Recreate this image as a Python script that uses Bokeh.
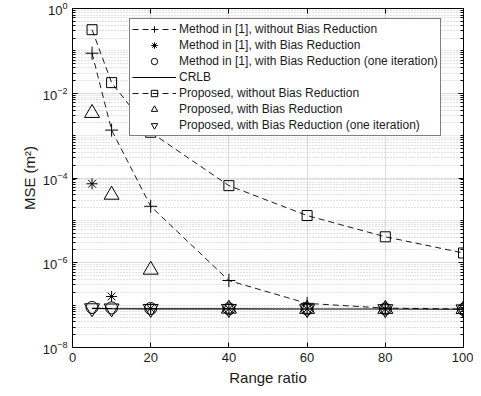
from bokeh.plotting import figure
from bokeh.models import (FixedTicker, LogAxis, LinearAxis, Legend, LegendItem)
from bokeh.embed import file_html
from bokeh.resources import INLINE

# ---- data ----
range_ratio = [5, 10, 20, 40, 60, 80, 100]
method_no_br = [8.8e-2, 1.35e-3, 2.15e-5, 3.8e-7, 1.1e-7, 8.5e-8, 8.1e-8]
method_br = [7.3e-5, 1.6e-7, 8.3e-8, 8.2e-8, 8.1e-8, 8.1e-8, 8.0e-8]
method_br_one = [8.8e-8, 8.6e-8, 8.3e-8, 8.2e-8, 8.1e-8, 8.1e-8, 8.0e-8]
crlb = [8.4e-8, 8.3e-8, 8.2e-8, 8.2e-8, 8.1e-8, 8.1e-8, 8.0e-8]
proposed_no_br = [0.316, 1.78e-2, 1.2e-3, 6.6e-5, 1.3e-5, 4.1e-6, 1.7e-6]
proposed_br = [3.4e-3, 4.0e-5, 6.8e-7, 8.2e-8, 8.1e-8, 8.1e-8, 8.0e-8]
proposed_br_one = [8.5e-8, 8.4e-8, 8.2e-8, 8.2e-8, 8.1e-8, 8.1e-8, 8.0e-8]

labels = [
    "Method in [1], without Bias Reduction",
    "Method in [1], with Bias Reduction",
    "Method in [1], with Bias Reduction (one iteration)",
    "CRLB",
    "Proposed, without Bias Reduction",
    "Proposed, with Bias Reduction",
    "Proposed, with Bias Reduction (one iteration)",
]
x_ticks = [0, 20, 40, 60, 80, 100]
y_major = [1e-8, 1e-6, 1e-4, 1e-2, 1.0]
y_minor = [m * 10.0 ** d for d in range(-8, 0) for m in range(1, 10)
           if not (m == 1 and d % 2 == 0)]

FONT = "Liberation Sans"
TXT = "#1a1a1a"

W, H = 473, 388
B_LEFT, B_RIGHT, B_TOP, B_BOTTOM = 72, 10, 8, 39
FRAME_H = H - B_TOP - B_BOTTOM

p = figure(width=W, height=H, x_range=(0, 100), y_range=(1e-8, 1),
           y_axis_type="log", output_backend="svg", toolbar_location=None,
           min_border_left=B_LEFT, min_border_right=B_RIGHT,
           min_border_top=B_TOP, min_border_bottom=B_BOTTOM)
p.outline_line_color = "black"
p.outline_line_width = 1

xt = FixedTicker(ticks=x_ticks, minor_ticks=[])
yt = FixedTicker(ticks=y_major, minor_ticks=y_minor)
p.xaxis.ticker = xt
p.yaxis.ticker = yt
p.xgrid.ticker = xt
p.ygrid.ticker = yt

for ax in (p.xaxis[0], p.yaxis[0]):
    ax.major_tick_in = 5
    ax.major_tick_out = 0
    ax.minor_tick_in = 3
    ax.minor_tick_out = 0
    ax.axis_line_color = "black"
    ax.major_tick_line_color = "black"
    ax.minor_tick_line_color = "black"
    ax.major_label_text_font = FONT
    ax.major_label_text_font_size = "13px"
    ax.major_label_text_color = TXT
    ax.axis_label_text_font = FONT
    ax.axis_label_text_font_size = "15px"
    ax.axis_label_text_font_style = "normal"
    ax.axis_label_text_color = TXT

p.xaxis.axis_label = "Range ratio"
p.yaxis.axis_label = "MSE (m²)"
p.xaxis.major_label_standoff = 5
p.xaxis.axis_label_standoff = 4
p.yaxis.major_label_standoff = 5
p.yaxis.axis_label_standoff = 2

# box axes (top and right) with inward ticks, no labels
top = LinearAxis(ticker=xt, major_tick_in=5, major_tick_out=0,
                 minor_tick_in=0, minor_tick_out=0,
                 major_label_text_font_size="0px", major_label_standoff=0,
                 major_label_text_color=None, axis_line_color="black")
right = LogAxis(ticker=yt, major_tick_in=5, major_tick_out=0,
                minor_tick_in=3, minor_tick_out=0,
                major_label_text_font_size="0px", major_label_standoff=0,
                major_label_text_color=None, axis_line_color="black")
p.add_layout(top, "above")
p.add_layout(right, "right")

p.xgrid.grid_line_color = "#dcdcdc"
p.ygrid.grid_line_color = "#dcdcdc"
p.ygrid.minor_grid_line_color = "#c4c4c4"
p.ygrid.minor_grid_line_dash = "1 2"

DASH = "6 4"
LW = 0.9

r_l1 = p.line(range_ratio, method_no_br, line_color="black", line_dash=DASH, line_width=LW)
r_l4 = p.line(range_ratio, crlb, line_color="black", line_width=1.2)
r_l5 = p.line(range_ratio, proposed_no_br, line_color="black", line_dash=DASH, line_width=LW)

r_m1 = p.scatter(range_ratio, method_no_br, marker="cross", size=13, line_color="black", line_width=1)
r_m2 = p.scatter(range_ratio, method_br, marker="asterisk", size=11, line_color="black", line_width=1)
r_m3 = p.scatter(range_ratio, method_br_one, marker="circle", size=12, line_color="black", fill_color=None, line_width=1)
r_m5 = p.scatter(range_ratio, proposed_no_br, marker="square", size=10, line_color="black", fill_color=None, line_width=1)
r_m6 = p.scatter(range_ratio, proposed_br, marker="triangle", size=15, line_color="black", fill_color=None, line_width=1)
r_m7 = p.scatter(range_ratio, proposed_br_one, marker="inverted_triangle", size=15, line_color="black", fill_color=None, line_width=1)

items = [
    LegendItem(label=labels[0], renderers=[r_l1, r_m1]),
    LegendItem(label=labels[1], renderers=[r_m2]),
    LegendItem(label=labels[2], renderers=[r_m3]),
    LegendItem(label=labels[3], renderers=[r_l4]),
    LegendItem(label=labels[4], renderers=[r_l5, r_m5]),
    LegendItem(label=labels[5], renderers=[r_m6]),
    LegendItem(label=labels[6], renderers=[r_m7]),
]
ROW, PAD = 16, 2
LEG_H = 7 * ROW + 2 * PAD
legend = Legend(items=items, location=(57, FRAME_H - 14 - LEG_H),
                label_text_font=FONT, label_text_font_size="12px",
                label_text_color=TXT,
                glyph_width=44, glyph_height=ROW, label_height=ROW,
                spacing=0, padding=PAD, margin=0, label_standoff=3,
                border_line_color="black", border_line_width=1,
                background_fill_color="white", background_fill_alpha=1)
p.add_layout(legend)

open("out.html", "w").write(file_html(p, INLINE))
